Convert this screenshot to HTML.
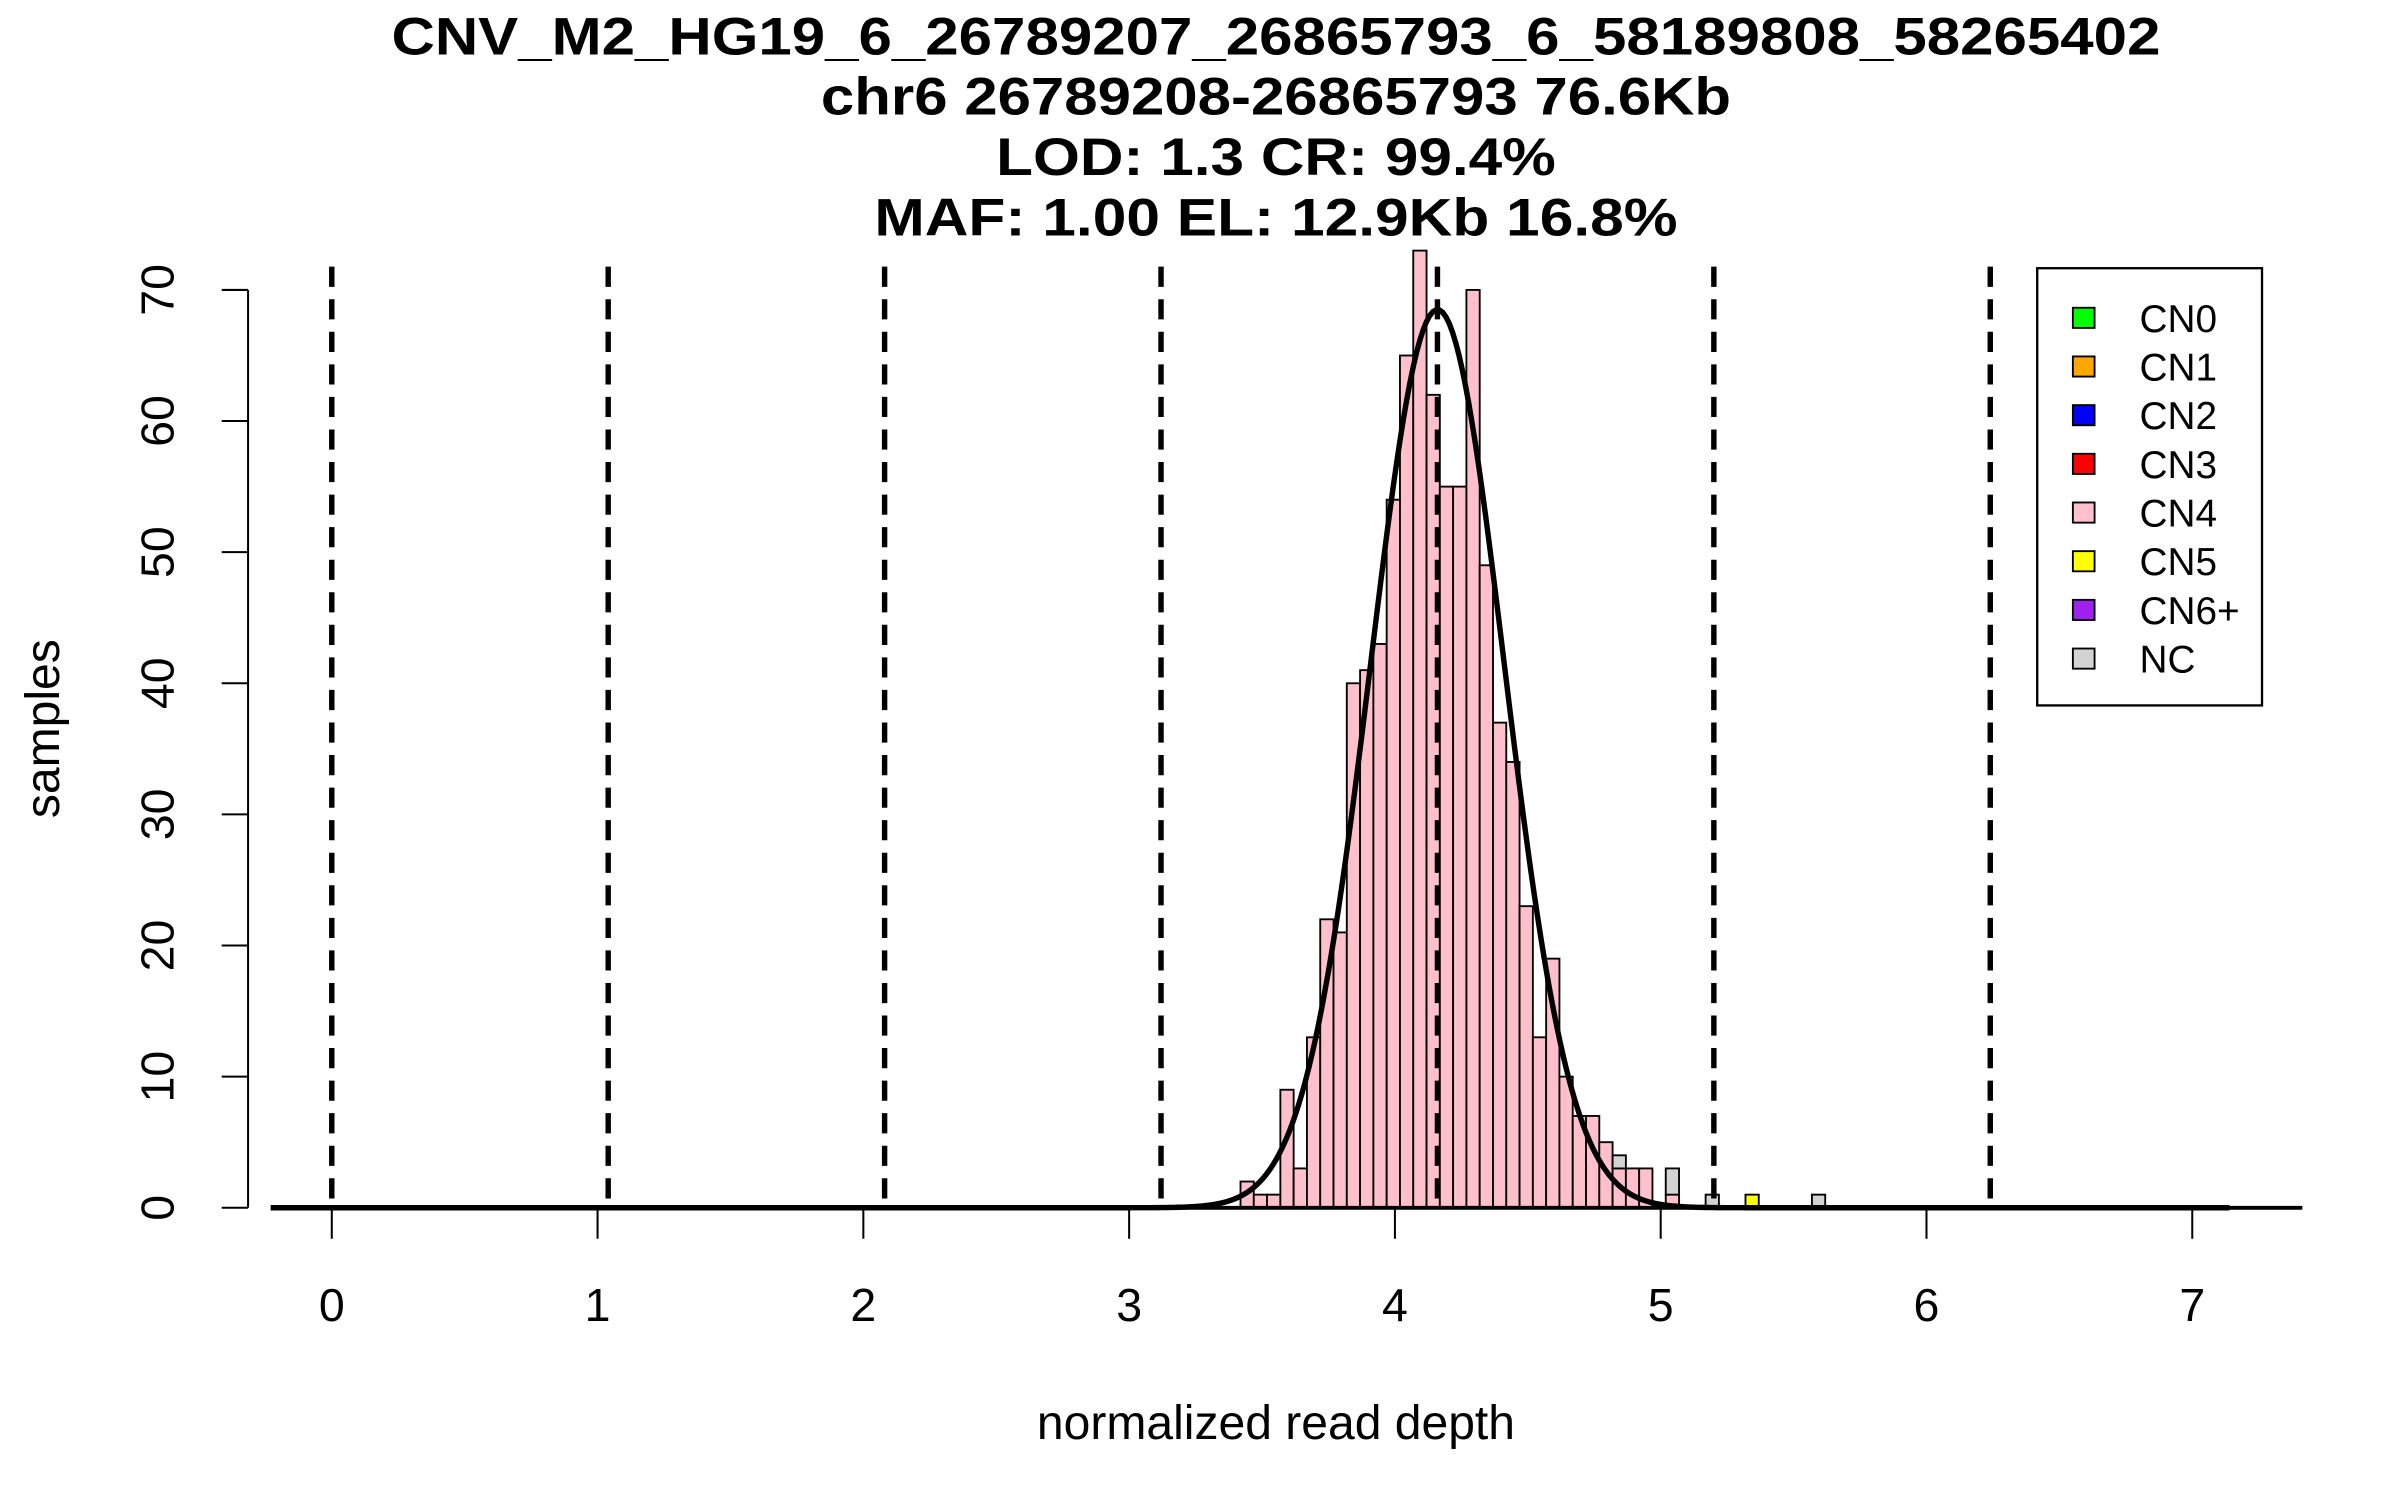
<!DOCTYPE html>
<html><head><meta charset="utf-8"><style>
html,body{margin:0;padding:0;background:#fff;width:2400px;height:1500px;overflow:hidden}
svg{display:block}
text{font-family:"Liberation Sans",Arial,sans-serif;fill:#000}
</style></head><body>
<svg id="chart" width="2400" height="1500" viewBox="0 0 1548 967.5" preserveAspectRatio="none" xmlns="http://www.w3.org/2000/svg">
<g font-weight="bold" font-size="34" text-anchor="middle">
<text x="823" y="35" textLength="1141" lengthAdjust="spacingAndGlyphs" font-weight="bold">CNV_M2_HG19_6_26789207_26865793_6_58189808_58265402</text>
<text x="823" y="74" textLength="587" lengthAdjust="spacingAndGlyphs" font-weight="bold">chr6 26789208-26865793 76.6Kb</text>
<text x="823" y="113" textLength="361" lengthAdjust="spacingAndGlyphs" font-weight="bold">LOD: 1.3 CR: 99.4%</text>
<text x="823" y="152" textLength="518" lengthAdjust="spacingAndGlyphs" font-weight="bold">MAF: 1.00 EL: 12.9Kb 16.8%</text>
</g>
<text x="0" y="0" font-size="31" text-anchor="middle" transform="translate(38,470) rotate(-90)">samples</text>
<text x="823" y="928" font-size="31" text-anchor="middle">normalized read depth</text>
<g id="plot"></g>
<g id="legend"></g>
</svg>
<script>
// ---- data ----
const binStart = 3.419;
const binWidth = 0.05;
const cn4Counts = [2,1,1,9,3,13,22,21,40,41,43,54,65,73,62,55,55,70,49,37,34,23,13,19,10,7,7,5,3,3,3,0,1,0,0,0,0,0,0,0,0,0,0,0];
const ncCounts  = [0,0,0,0,0,0,0,0,0,0,0,0,0,0,0,0,0,0,0,0,0,0,0,0,0,0,0,0,1,0,0,0,2,0,0,1,0,0,0,0,0,0,0,1];
const cn5Counts = [0,0,0,0,0,0,0,0,0,0,0,0,0,0,0,0,0,0,0,0,0,0,0,0,0,0,0,0,0,0,0,0,0,0,0,0,0,0,1,0,0,0,0,0];
const cnThresholds = [0,1.04,2.08,3.12,4.16,5.2,6.24];
const xTicks = [0,1,2,3,4,5,6,7];
const yTicks = [0,10,20,30,40,50,60,70];
const fitMean = 4.16, fitSd = 0.251, fitPeak = 68.5;
const legendLabels = ["CN0","CN1","CN2","CN3","CN4","CN5","CN6+","NC"];
const legendColors = ["#00ff00","#ffa500","#0000ff","#ff0000","#ffc0cb","#ffff00","#a020f0","#d3d3d3"];

// ---- axes ----
const X = v => 214 + v * 171.43;
const Y = v => 779 - v * 8.457;
const NS = "http://www.w3.org/2000/svg";
const plot = document.getElementById('plot');
function mk(tag, attrs, parent){ const e=document.createElementNS(NS,tag); for(const k in attrs) e.setAttribute(k,attrs[k]); (parent||plot).appendChild(e); return e; }

for (let i=0;i<cn4Counts.length;i++){
  const x0 = X(binStart + i*binWidth), x1 = X(binStart + (i+1)*binWidth);
  let base = 0;
  const layers = [[cn4Counts[i],"#ffc0cb","cn4"],[ncCounts[i],"#d3d3d3","nc"],[cn5Counts[i],"#ffff00","cn5"]];
  for (const [c,col,nm] of layers){
    if (c<=0) continue;
    const r = mk('rect',{x:x0,y:Y(base+c),width:x1-x0,height:Y(base)-Y(base+c),fill:col,stroke:"#000","stroke-width":1.2});
    
    
    base += c;
  }
}
const base = mk('line',{x1:175,y1:779,x2:1485,y2:779,stroke:"#000","stroke-width":2.5});


cnThresholds.forEach((t,i)=>{
  const l = mk('line',{x1:X(t),y1:172,x2:X(t),y2:779,stroke:"#000","stroke-width":3.5,"stroke-dasharray":"13 8"});
  
  
});
let d = "";
for (let k=0;k<=600;k++){
  const v = -0.23 + k*(7.37/600);
  const yv = fitPeak*Math.exp(-0.5*Math.pow((v-fitMean)/fitSd,2));
  d += (k?"L":"M")+X(v).toFixed(2)+","+Y(yv).toFixed(2);
}
const curve = mk('path',{d:d,fill:"none",stroke:"#000","stroke-width":3.5});


const ya = mk('line',{x1:160,y1:Y(0),x2:160,y2:Y(70),stroke:"#000","stroke-width":1.3});


yTicks.forEach(t=>{
  const tk = mk('line',{x1:143,y1:Y(t),x2:160,y2:Y(t),stroke:"#000","stroke-width":1.3});
  
  
  const tx = mk('text',{x:0,y:0,"font-size":30,"text-anchor":"middle",transform:"translate(112,"+Y(t)+") rotate(-90)"});
  tx.textContent = String(t);
  
  
});
xTicks.forEach(t=>{
  const tk = mk('line',{x1:X(t),y1:779,x2:X(t),y2:799,stroke:"#000","stroke-width":1.3});
  
  
  const tx = mk('text',{x:X(t),y:852,"font-size":30,"text-anchor":"middle"});
  tx.textContent = String(t);
  
  
});
const lg = document.getElementById('legend');
const box = mk('rect',{x:1314,y:173,width:145,height:282,fill:"#fff",stroke:"#000","stroke-width":1.5},lg);


legendLabels.forEach((lab,i)=>{
  const cy = 205 + i*31.4;
  const sq = mk('rect',{x:1337,y:cy-6.5,width:14,height:13,fill:legendColors[i],stroke:"#000","stroke-width":1.2},lg);
  
  
  const tx = mk('text',{x:1380,y:cy+9,"font-size":25},lg);
  tx.textContent = lab;
  
  
});
</script>
</body></html>
